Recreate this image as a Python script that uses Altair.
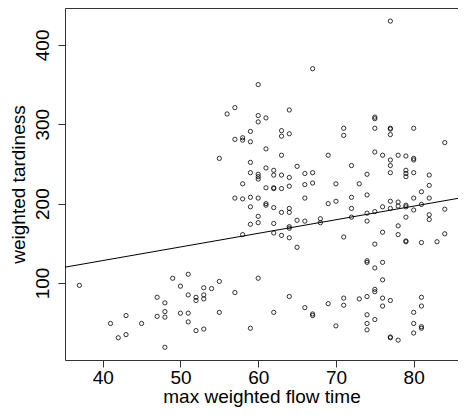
import altair as alt
import pandas as pd

# max weighted flow time (x) and weighted tardiness (y)
x_vals = [
    37, 49, 51, 50, 55, 53, 54, 47, 48, 51, 52, 52, 53, 53, 43, 41, 45, 47, 48, 48,
    50, 51, 55, 51, 42, 43, 52, 53, 48,
    60, 67, 77,
    56, 57, 60, 60, 61, 64, 59, 63, 63, 64,
    57, 58, 58, 59, 61, 63, 69, 55, 59, 61,
    62, 65, 59, 60, 60, 60, 62, 63, 64, 66,
    67, 58, 61, 62, 62, 63, 64, 66, 67, 70,
    57, 58, 59, 60, 66, 59, 61, 61, 62, 63, 64, 64, 69, 70, 60, 59, 60, 62, 65, 66,
    68, 68, 64, 64, 58, 62, 63, 64, 65, 60,
    57, 59, 62, 64, 66, 67, 67, 69, 70,
    75, 75, 71, 71, 75, 77, 77, 77, 80, 84, 75, 76, 77, 77, 78, 79, 80, 80, 72, 74,
    77, 79, 79, 79, 80, 82, 73, 82, 81,
    72, 74, 80, 82, 72, 77, 78, 78, 79, 79, 76, 77, 80, 81, 84, 74, 75, 72, 82, 82,
    79, 74, 78, 76, 78, 71, 84, 75, 79, 79, 81, 83, 74, 74, 75, 76, 76, 75, 75,
    71, 71, 73, 74, 76, 77, 76, 81, 81, 74, 75, 74, 74, 80, 80, 81, 81, 80, 77, 77,
    78,
]
y_vals = [
    97, 106, 111, 96, 102, 94, 93, 82, 75, 85, 82, 78, 85, 80, 59, 49, 49, 58, 64, 57,
    62, 62, 63, 51, 31, 35, 40, 42, 19,
    350, 370, 430,
    313, 321, 311, 303, 308, 318, 291, 292, 285, 288,
    281, 280, 283, 278, 269, 261, 261, 257, 252, 245,
    242, 247, 239, 237, 234, 231, 236, 236, 233, 238,
    239, 225, 220, 219, 220, 219, 222, 224, 226, 225,
    207, 206, 208, 207, 207, 196, 200, 198, 195, 189, 194, 189, 200, 203, 184, 174, 176, 175, 179, 178,
    181, 176, 169, 171, 161, 163, 160, 157, 145, 106,
    88, 43, 63, 83, 69, 61, 59, 74, 46,
    309, 307, 295, 286, 295, 295, 294, 287, 295, 277, 265, 261, 255, 248, 261, 260, 257, 255, 248, 237,
    239, 242, 238, 234, 239, 236, 225, 223, 215,
    208, 211, 207, 207, 194, 203, 202, 197, 198, 196, 196, 194, 192, 199, 193, 188, 190, 183, 186, 180,
    183, 178, 172, 164, 161, 158, 162, 149, 153, 152, 151, 152, 128, 126, 119, 126, 104, 92, 89,
    81, 72, 80, 83, 81, 78, 71, 82, 71, 60, 54, 49, 41, 63, 49, 45, 43, 37, 32, 31,
    28,
]

x_ticks = [40, 50, 60, 70, 80]
y_ticks = [100, 200, 300, 400]
x_domain = [35.15, 85.7]
y_domain = [3, 446.5]

df = pd.DataFrame({"x": x_vals, "y": y_vals})

xs = alt.Scale(domain=x_domain, nice=False, zero=False)
ys = alt.Scale(domain=y_domain, nice=False, zero=False)

x_enc = alt.X("x:Q", scale=xs, axis=alt.Axis(values=x_ticks, title="max weighted flow time",
                                              labelPadding=1, titlePadding=0))
y_enc = alt.Y("y:Q", scale=ys, axis=alt.Axis(values=y_ticks, title="weighted tardiness",
                                              labelAngle=270, labelAlign="center",
                                              labelBaseline="bottom", labelPadding=6,
                                              titlePadding=5))

points = alt.Chart(df).mark_point(
    shape="circle", filled=False, size=18, color="black", strokeWidth=0.8, opacity=1
).encode(x=x_enc, y=y_enc)

line = alt.Chart(df).transform_regression(
    "x", "y", extent=x_domain
).mark_line(color="black", strokeWidth=1, clip=True).encode(
    x=alt.X("x:Q", scale=xs), y=alt.Y("y:Q", scale=ys)
)

chart = (points + line).properties(
    width=393, height=352,
    padding={"left": 57, "top": 0, "right": 0, "bottom": 47},
    autosize=alt.AutoSizeParams(type="none"),
).configure_view(
    stroke="#333", strokeWidth=1
).configure_axis(
    grid=False, domain=False, tickColor="#333", tickSize=7, tickWidth=1,
    labelFont="Liberation Sans", labelFontSize=19, labelColor="black",
    titleFont="Liberation Sans", titleFontSize=19, titleFontWeight="normal", titleColor="black",
)

chart.save("out.html", embed_options={"renderer": "svg", "actions": False})
